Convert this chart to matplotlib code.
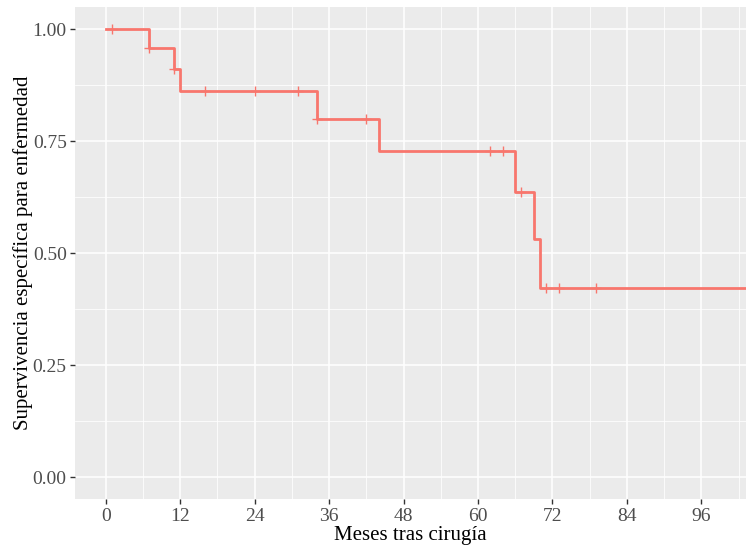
import matplotlib
matplotlib.use("Agg")
import matplotlib.pyplot as plt
from matplotlib.ticker import MultipleLocator

# Kaplan-Meier step data
step_times = [0, 7, 11, 12, 34, 44, 66, 69, 70]
step_surv = [1.0, 0.957, 0.911, 0.861, 0.799, 0.728, 0.636, 0.531, 0.423]
end_time = 103.5

# Censoring marks
censor_times = [1, 7, 11, 16, 24, 31, 34, 42, 62, 64, 67, 71, 73, 79]

x_ticks = [0, 12, 24, 36, 48, 60, 72, 84, 96]
y_ticks = [0.0, 0.25, 0.5, 0.75, 1.0]
y_ticklabels = ["0.00", "0.25", "0.50", "0.75", "1.00"]

plt.rcParams['font.family'] = ['Liberation Serif', 'DejaVu Serif']

fig = plt.figure(figsize=(7.46, 5.46), dpi=100)
W, H = 746, 546
left, right, top, bottom = 75, 746, 6.7, 499.3
ax = fig.add_axes([left / W, (H - bottom) / H, (right - left) / W, (bottom - top) / H])
ax.set_facecolor("#EBEBEB")
for s in ax.spines.values():
    s.set_visible(False)

ax.set_xlim(-4.95, 103.2)
ax.set_ylim(-0.049, 1.050)

ax.set_xticks(x_ticks)
ax.set_yticks(y_ticks)
ax.set_yticklabels(y_ticklabels)
ax.xaxis.set_minor_locator(MultipleLocator(6))
ax.yaxis.set_minor_locator(MultipleLocator(0.125))
ax.grid(which="major", color="white", linewidth=1.1)
ax.grid(which="minor", color="white", linewidth=0.55)
ax.set_axisbelow(True)
ax.tick_params(which="major", length=3.5, width=1.0, color="#333333",
               labelcolor="#4D4D4D", labelsize=14, pad=2.5)
ax.tick_params(which="minor", length=0)

# step curve
xs = list(step_times) + [end_time]
ys = list(step_surv) + [step_surv[-1]]
ax.step(xs, ys, where="post", color="#F8766D", linewidth=2.0, zorder=3)

# censor marks at the survival level at each censor time
def surv_at(t):
    val = step_surv[0]
    for st, sv in zip(step_times, step_surv):
        if st <= t:
            val = sv
    return val

cy = [surv_at(t) for t in censor_times]
ax.plot(censor_times, cy, linestyle="none", marker="+", markersize=7,
        markeredgewidth=1.0, color="#F8766D", zorder=4)

ax.set_xlabel("Meses tras cirugía", fontsize=15, color="black", labelpad=1)
ax.set_ylabel("Supervivencia específica para enfermedad", fontsize=15,
              color="black", labelpad=0)

fig.savefig("out.png", dpi=100)
